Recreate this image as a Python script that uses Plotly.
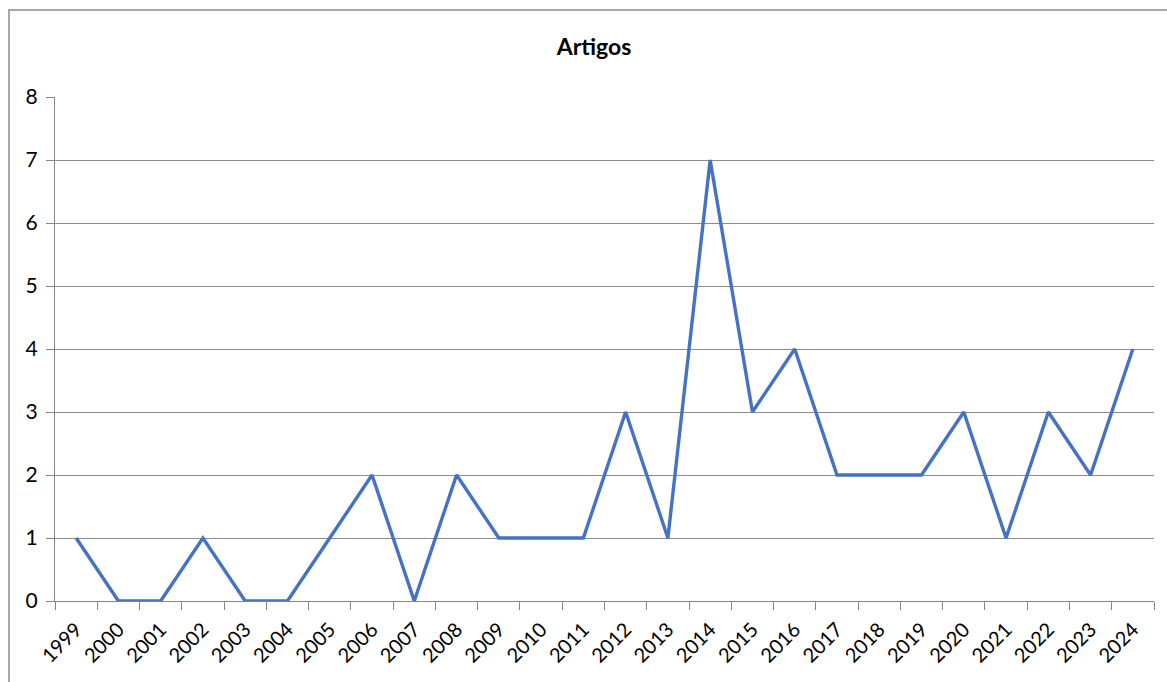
import plotly.graph_objects as go

years = [str(y) for y in range(1999, 2025)]
artigos = [1, 0, 0, 1, 0, 0, 1, 2, 0, 2, 1, 1, 1, 3, 1, 7, 3, 4, 2, 2, 2, 3, 1, 3, 2, 4]
y_ticks = [0, 1, 2, 3, 4, 5, 6, 7, 8]

W, H = 1167, 682
L, R, T, B = 55, 13, 97, 81
pw, ph = W - L - R, H - T - B

fig = go.Figure()
fig.add_trace(go.Scatter(
    x=years, y=artigos, mode="lines",
    line=dict(color="#4472C4", width=3.4),
    name="Artigos", showlegend=False,
))

font_family = "Lato, Open Sans, sans-serif"

fig.update_layout(
    width=W, height=H,
    margin=dict(l=L, r=R, t=T, b=B, autoexpand=False),
    paper_bgcolor="white", plot_bgcolor="white",
    title=dict(text="<b>Artigos</b>", x=594 / W, xanchor="center",
               y=1 - 47 / H, yanchor="middle", yref="container",
               font=dict(family=font_family, size=23, color="#000000")),
    xaxis=dict(
        type="category", tickson="boundaries",
        ticks="outside", ticklen=8, tickcolor="#868686", tickwidth=1,
        showline=True, linecolor="#868686", linewidth=1,
        showgrid=False, tickangle=-45, ticklabelstandoff=8,
        tickfont=dict(family=font_family, size=20, color="#000000"),
        range=[-0.5, len(years) - 0.5],
    ),
    yaxis=dict(
        range=[0, 8], tickvals=y_ticks,
        ticks="outside", ticklen=8, tickcolor="#868686", tickwidth=1,
        showline=True, linecolor="#868686", linewidth=1,
        showgrid=True, gridcolor="#8c8c8c", gridwidth=1,
        zeroline=False, ticklabelstandoff=4,
        tickfont=dict(family=font_family, size=21, color="#000000"),
    ),
)

# outer chart border (left and top edges visible)
x0 = (9 - L) / pw
x1 = (W + 20 - L) / pw
y1 = 1 + (T - 10) / ph
y0 = -(B + 20) / ph
fig.add_shape(type="rect", xref="paper", yref="paper",
              x0=x0, x1=x1, y0=y0, y1=y1,
              line=dict(color="#8a8a8a", width=1.5), fillcolor="rgba(0,0,0,0)",
              layer="below")

fig.write_html("out.html", config={"displayModeBar": False},
               post_script="document.body.style.margin='0';document.body.style.overflow='hidden';")
